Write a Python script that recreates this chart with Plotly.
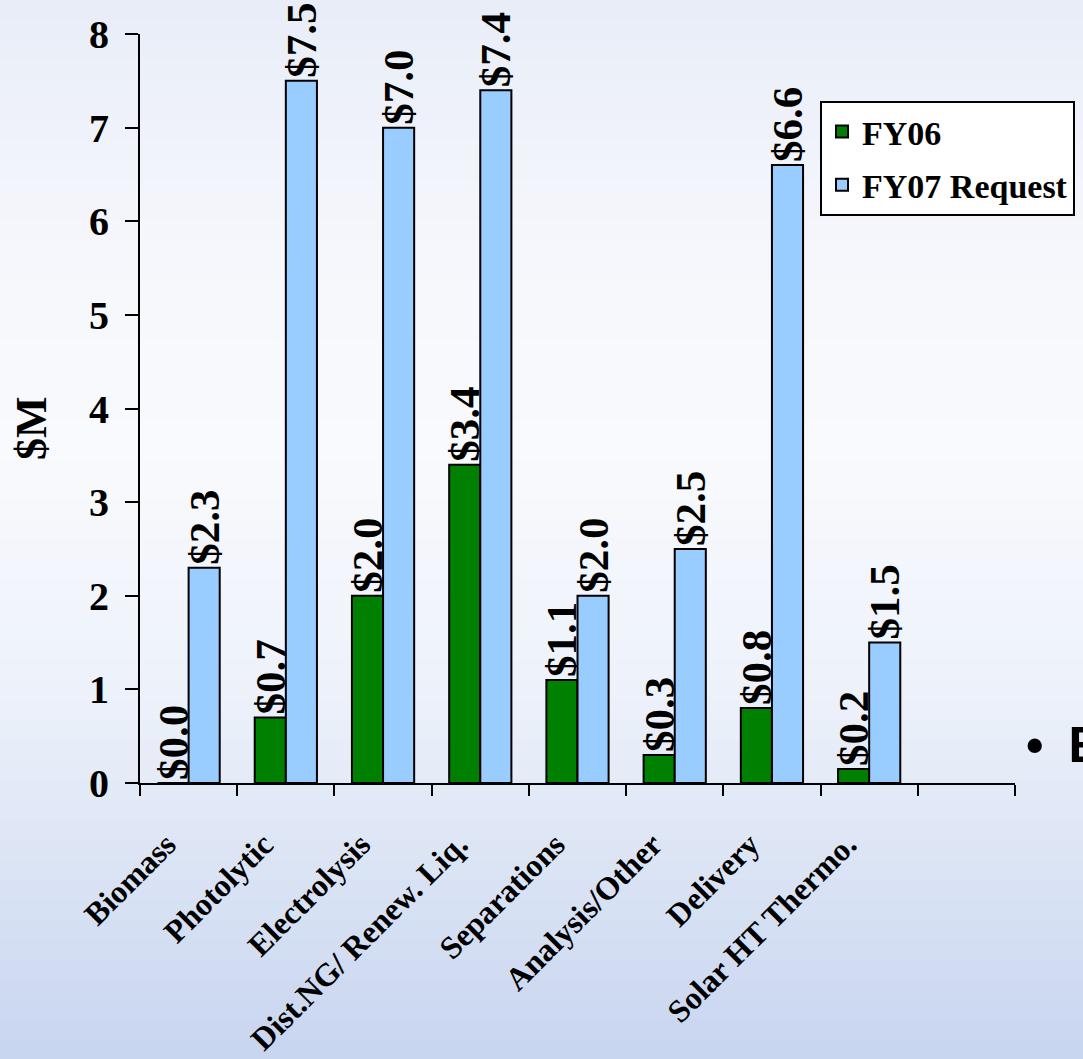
import plotly.graph_objects as go

categories = ["Biomass", "Photolytic", "Electrolysis", "Dist.NG/ Renew. Liq.",
              "Separations", "Analysis/Other", "Delivery", "Solar HT Thermo."]
fy06 = [0.0, 0.7, 2.0, 3.4, 1.1, 0.3, 0.8, 0.15]
fy07 = [2.3, 7.5, 7.0, 7.4, 2.0, 2.5, 6.6, 1.5]
fy06_labels = ["$0.0", "$0.7", "$2.0", "$3.4", "$1.1", "$0.3", "$0.8", "$0.2"]
fy07_labels = ["$2.3", "$7.5", "$7.0", "$7.4", "$2.0", "$2.5", "$6.6", "$1.5"]
y_ticks = [0, 1, 2, 3, 4, 5, 6, 7, 8]

W, H = 1083, 1059
ML, MR, MT, MB = 140, 68, 34, 276
PW, PH = W - ML - MR, H - MT - MB

SERIF = "Liberation Serif, Times New Roman, serif"
xpos = list(range(len(categories)))

label_font = dict(family=SERIF, size=43, color="black", weight=900)
fig = go.Figure()
bar_common = dict(
    textposition="outside", textangle=-90, constraintext="none", cliponaxis=False,
    textfont=label_font, outsidetextfont=label_font,
    marker_line=dict(color="black", width=2),
)
fig.add_trace(go.Bar(name="FY06", x=xpos, y=fy06,
                     text=["<b>%s</b>" % t for t in fy06_labels],
                     marker_color="#008000", legendgroup="a", **bar_common))
fig.add_trace(go.Bar(name="FY07 Request", x=xpos, y=fy07,
                     text=["<b>%s</b>" % t for t in fy07_labels],
                     marker_color="#99CCFF", legendgroup="b", **bar_common))

# background gradient (page styling)
stops = [(0, (232, 237, 247)), (250, (245, 247, 252)), (450, (249, 250, 253)),
         (700, (236, 241, 250)), (1059, (200, 213, 239))]
def col_at(py):
    for (a, ca), (b, cb) in zip(stops[:-1], stops[1:]):
        if a <= py <= b:
            t = (py - a) / (b - a)
            return "rgb(%d,%d,%d)" % tuple(round(ca[i] + (cb[i] - ca[i]) * t) for i in range(3))
    return "rgb(%d,%d,%d)" % stops[-1][1]

shapes = []
n = 53
for i in range(n):
    y0p = i * H / n
    y1p = (i + 1) * H / n + 1
    shapes.append(dict(type="rect", xref="paper", yref="paper", layer="below",
                       x0=-ML / PW, x1=(W - ML) / PW,
                       y0=(H - MB - y1p) / PH, y1=(H - MB - y0p) / PH,
                       fillcolor=col_at((y0p + y1p) / 2), line_width=0))

fig.update_layout(
    width=W, height=H,
    margin=dict(l=ML, r=MR, t=MT, b=MB, autoexpand=False),
    paper_bgcolor="rgb(240,243,250)", plot_bgcolor="rgba(0,0,0,0)",
    barmode="group", bargap=0.36, bargroupgap=0,
    shapes=shapes,
    showlegend=True,
    legend=dict(x=(820 - ML) / PW, y=(H - MB - 101) / PH, xanchor="left", yanchor="top",
                bgcolor="white", bordercolor="black", borderwidth=2,
                font=dict(family=SERIF, size=34, color="black", weight="bold"),
                itemsizing="constant", tracegroupgap=6, traceorder="grouped",
                entrywidth=290, entrywidthmode="pixels"),
    xaxis=dict(range=[-0.5, 8.5], tickmode="array", tickvals=xpos, ticktext=categories,
               tickangle=-45, ticks="", showline=True, linecolor="black", linewidth=2,
               showgrid=False, zeroline=False, ticklabelstandoff=28, ticklabelshift=-22,
               tickfont=dict(family=SERIF, size=32, color="black", weight="bold"),
               minor=dict(tickmode="linear", tick0=-0.5, dtick=1, ticks="outside",
                          ticklen=11, tickwidth=2, tickcolor="black", showgrid=False)),
    yaxis=dict(range=[0, 8], tickmode="array", tickvals=y_ticks, ticks="outside",
               ticklen=13, tickwidth=2, tickcolor="black", showline=True, linecolor="black",
               linewidth=2, showgrid=False, zeroline=False, ticklabelstandoff=8,
               tickfont=dict(family=SERIF, size=40, color="black", weight="bold")),
    annotations=[
        dict(text="<b>$M</b>", xref="paper", yref="paper", textangle=-90,
             x=(31 - ML) / PW, y=(H - MB - 428) / PH, xanchor="center", yanchor="middle",
             showarrow=False, font=dict(family=SERIF, size=44, color="black")),
        dict(text="\u2022\u2002E", xref="paper", yref="paper",
             x=(1024 - ML) / PW, y=(H - MB - 745) / PH, xanchor="left", yanchor="middle",
             showarrow=False,
             font=dict(family="Liberation Sans, Arial, sans-serif", size=50,
                       color="black", weight="bold")),
    ],
)

fig.write_html("out.html")
